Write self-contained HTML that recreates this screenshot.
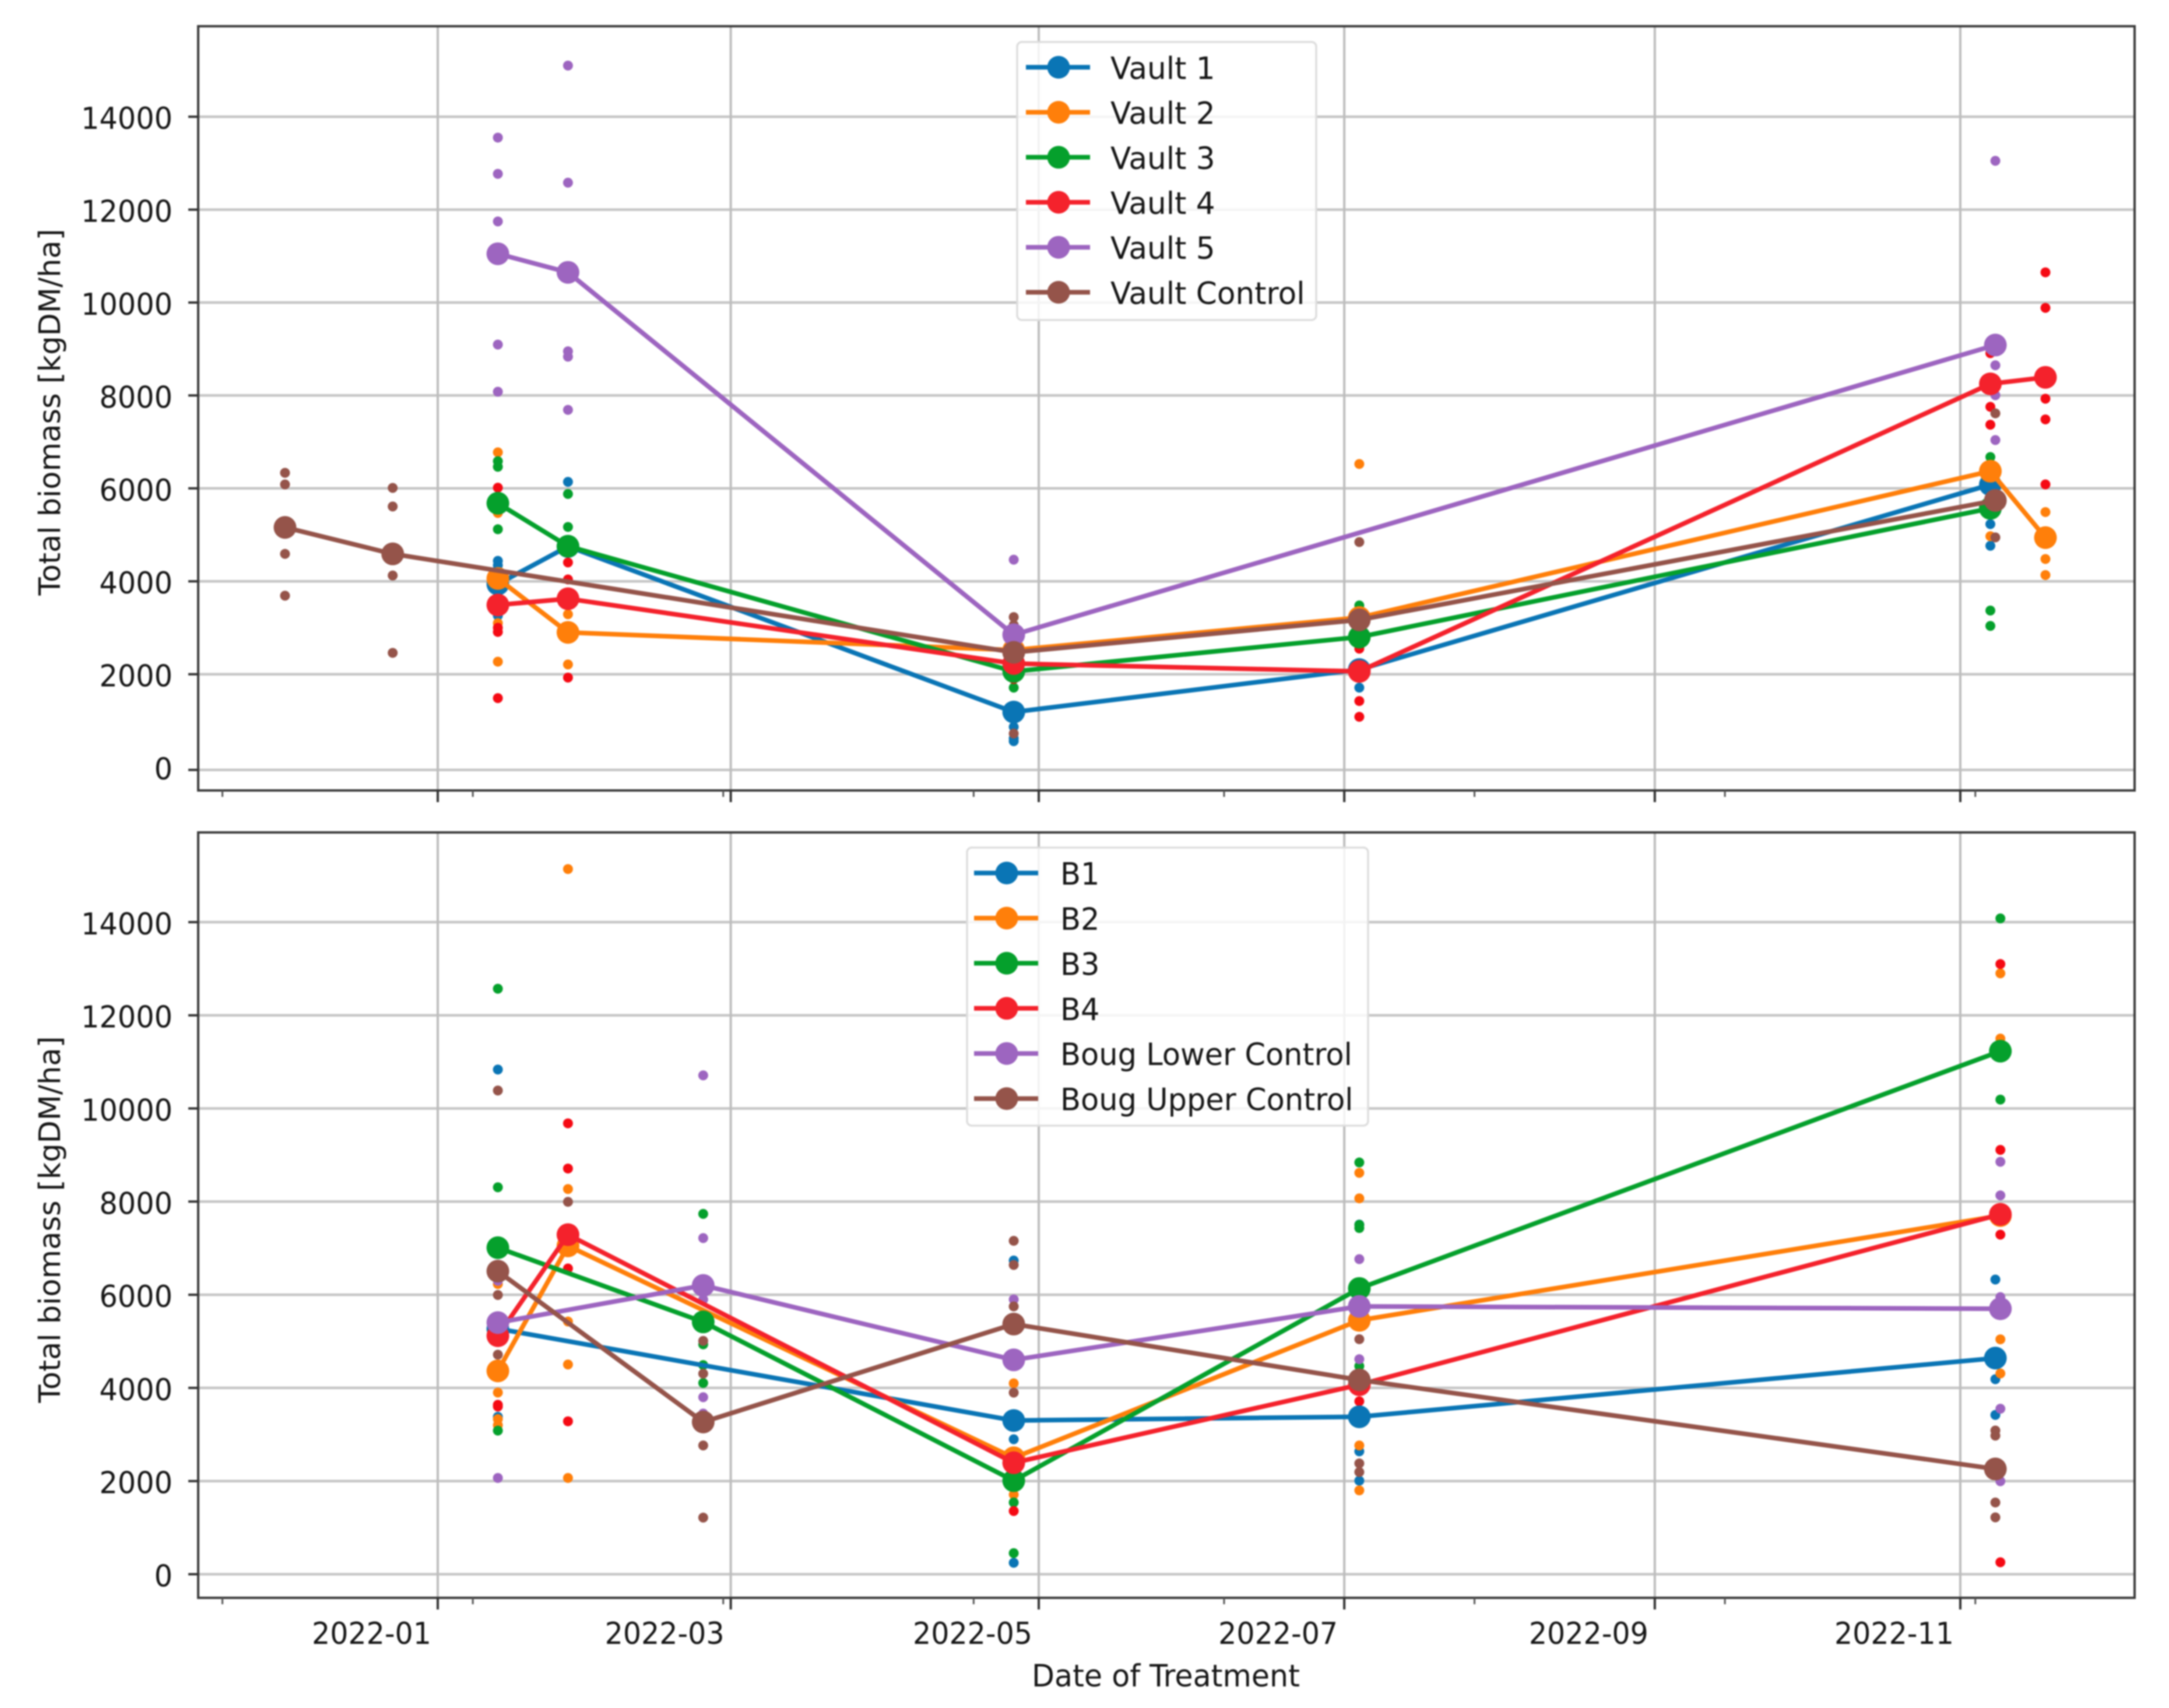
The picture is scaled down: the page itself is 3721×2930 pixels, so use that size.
<!DOCTYPE html>
<html lang="en">
<head>
<meta charset="utf-8">
<title>Total biomass by date of treatment</title>
<style>
  html, body { margin: 0; padding: 0; background: #ffffff; }
  #figure { display: block; width: 3721px; height: 2930px; filter: blur(1.2px); }
  text { font-family: "DejaVu Sans", "Liberation Sans", sans-serif; fill: #161616; }
</style>
</head>
<body>
<svg id="figure" xmlns="http://www.w3.org/2000/svg" width="3721" height="2930" viewBox="0 0 3721 2930"></svg>
<script>
// ---- Shared tick data ----
const monthTickDates = ['2022-01-01', '2022-02-28T12:00', '2022-05-01', '2022-07-01', '2022-09-01', '2022-11-01'];
const monthTickLabels = ['2022-01', '2022-03', '2022-05', '2022-07', '2022-09', '2022-11'];
const minorTickDates = ['2021-11-19', '2022-01-08', '2022-02-27', '2022-04-18', '2022-06-07', '2022-07-27', '2022-09-15', '2022-11-04'];
const yTickValues = [0, 2000, 4000, 6000, 8000, 10000, 12000, 14000];
const seriesColors = ['#0a75b5', '#ff7f0a', '#05a02c', '#f4222c', '#9d65c0', '#95544a'];
const sampleColors = ['#0a75b5', '#ff7f0a', '#05a02c', '#f50a14', '#9d65c0', '#95544a'];

// ---- Top panel: vault sites ----
const vaultNames = ['Vault 1', 'Vault 2', 'Vault 3', 'Vault 4', 'Vault 5', 'Vault Control'];

const vault1Dates = ['2022-01-13', '2022-01-27', '2022-04-26', '2022-07-04', '2022-11-07'];
const vault1Means = [3940, 4750, 1210, 2100, 6080];
const vault1Samples = [[4440, 4345, 3260], [6140], [600, 660, 900], [1720, 1950], [5230, 4765]];

const vault2Dates = ['2022-01-13', '2022-01-27', '2022-04-26', '2022-07-04', '2022-11-07', '2022-11-18'];
const vault2Means = [4060, 2900, 2520, 3220, 6370, 4940];
const vault2Samples = [[6775, 5470, 3100, 2270], [3290, 2210], [2700], [6525], [4970], [5490, 4480, 4135]];

const vault3Dates = ['2022-01-13', '2022-01-27', '2022-04-26', '2022-07-04', '2022-11-07'];
const vault3Means = [5680, 4755, 2060, 2800, 5570];
const vault3Samples = [[6585, 6465, 5120], [5880, 5170], [1720], [3480, 3330], [6675, 3370, 3040]];

const vault4Dates = ['2022-01-13', '2022-01-27', '2022-04-26', '2022-07-04', '2022-11-07', '2022-11-18'];
const vault4Means = [3490, 3625, 2230, 2060, 8250, 8390];
const vault4Samples = [[6015, 3000, 2910, 1500], [4405, 4040, 1930], [1900], [2550, 1440, 1110], [8910, 7755, 7370], [10650, 9885, 7930, 7485, 6085]];

const vault5Dates = ['2022-01-13', '2022-01-27', '2022-04-26', '2022-11-08'];
const vault5Means = [11050, 10650, 2850, 9085];
const vault5Samples = [[13550, 12770, 11745, 9095, 8080], [15100, 12580, 8950, 8835, 7690], [4465], [13050, 8650, 8005, 7040]];

const vaultControlDates = ['2021-12-01T12:00', '2021-12-23', '2022-04-26', '2022-07-04', '2022-11-08'];
const vaultControlMeans = [5160, 4590, 2470, 3170, 5740];
const vaultControlSamples = [[6335, 6085, 4590, 3690], [6010, 5610, 4670, 4125, 2460], [3230, 3060, 760], [4845], [7615, 4945]];

// ---- Bottom panel: Boug sites ----
const bougNames = ['B1', 'B2', 'B3', 'B4', 'Boug Lower Control', 'Boug Upper Control'];

const b1Dates = ['2022-01-13', '2022-04-26', '2022-07-04', '2022-11-08'];
const b1Means = [5270, 3300, 3380, 4640];
const b1Samples = [[10835, 3380], [6735, 2897, 245], [7506, 2638, 2008], [6327, 4186, 3420]];

const b2Dates = ['2022-01-13', '2022-01-27', '2022-04-26', '2022-07-04', '2022-11-09'];
const b2Means = [4365, 7050, 2500, 5450, 7700];
const b2Samples = [[6230, 3900, 3330, 3200], [15140, 8270, 5425, 4503, 2067], [4098, 1710], [8617, 8070, 2764, 1800], [12900, 11500, 5043, 4310]];

const b3Dates = ['2022-01-13', '2022-02-23', '2022-04-26', '2022-07-04', '2022-11-09'];
const b3Means = [7010, 5417, 2008, 6135, 11230];
const b3Samples = [[12570, 8307, 3083], [7736, 4935, 4490, 4105], [1541, 452], [8840, 7432, 7500, 4468], [14080, 10190]];

const b4Dates = ['2022-01-13', '2022-01-27', '2022-04-26', '2022-07-04', '2022-11-09'];
const b4Means = [5120, 7290, 2393, 4068, 7727];
const b4Samples = [[3638, 3600], [9680, 8710, 6565, 3283], [1356], [3712], [13100, 9110, 7290, 257]];

const bougLowerDates = ['2022-01-13', '2022-02-23', '2022-04-26', '2022-07-04', '2022-11-09'];
const bougLowerMeans = [5402, 6200, 4602, 5750, 5700];
const bougLowerSamples = [[6300, 2067], [10710, 7217, 5900, 3800, 3450], [5900], [6765, 4616], [8855, 8133, 5950, 3553, 1996]];

const bougUpperDates = ['2022-01-13', '2022-02-23', '2022-04-26', '2022-07-04', '2022-11-08'];
const bougUpperMeans = [6506, 3268, 5370, 4172, 2260];
const bougUpperSamples = [[10385, 5995, 4713], [5010, 4305, 2764, 1215], [7158, 6640, 5750, 3898], [5046, 2379, 2193], [3085, 2975, 1540, 1220]];

const bougUpperExtraDates = ['2022-01-27'];
const bougUpperExtraValues = [7995];

// ---- Axis functions ----
function dayOf(dateStr) {
  const iso = dateStr.indexOf('T') >= 0 ? dateStr + 'Z' : dateStr + 'T00:00Z';
  return (Date.parse(iso) - Date.UTC(2022, 0, 1)) / 86400000;
}
function xScale(dateStr) { return 751 + 8.592 * dayOf(dateStr); }
function yTop(v) { return v >= 2000 ? 1316 - 0.0797 * v : 1156.6 + (2000 - v) * 0.0821; }
function yTopLabel(v) { return 1316 - 0.0797 * v; }
function yBottom(v) { return 2700.5 - 0.0799 * v; }

const svg = document.getElementById('figure');
const NS = 'http://www.w3.org/2000/svg';

function add(parent, tag, attrs, name) {
  const el = document.createElementNS(NS, tag);
  for (const key in attrs) el.setAttribute(key, attrs[key]);
  
  
  parent.appendChild(el);
  return el;
}
function addText(parent, attrs, content, name) {
  const el = add(parent, 'text', attrs, name);
  el.textContent = content;
  return el;
}

function drawPanel(cfg) {
  const g = add(svg, 'g', {}, cfg.name);
  const L = 340, R = 3662, T = cfg.top, B = cfg.bottom;

  // grid
  yTickValues.forEach(function (v) {
    add(g, 'line', { x1: L, x2: R, y1: cfg.y(v), y2: cfg.y(v), stroke: '#c6c6c6', 'stroke-width': 4.5 }, 'y-gridline-' + v);
  });
  monthTickDates.forEach(function (d, i) {
    add(g, 'line', { x1: xScale(d), x2: xScale(d), y1: T, y2: B, stroke: '#bdbdbd', 'stroke-width': 4 }, 'x-gridline-' + monthTickLabels[i]);
  });

  // individual samples beneath all lines
  cfg.series.forEach(function (s, si) {
    s.samples.forEach(function (values, di) {
      values.forEach(function (v) {
        add(g, 'circle', { cx: xScale(s.dates[di]), cy: cfg.y(v), r: 8.5, fill: sampleColors[si] }, cfg.names[si].toLowerCase().replace(/ /g, '-') + '-sample');
      });
    });
  });
  if (cfg.extraDates) {
    cfg.extraDates.forEach(function (d, i) {
      add(g, 'circle', { cx: xScale(d), cy: cfg.y(cfg.extraValues[i]), r: 8.5, fill: sampleColors[5] }, 'extra-sample');
    });
  }

  // mean lines + markers
  cfg.series.forEach(function (s, si) {
    const pts = s.dates.map(function (d, i) { return xScale(d).toFixed(1) + ',' + cfg.y(s.means[i]).toFixed(1); }).join(' ');
    const slug = cfg.names[si].toLowerCase().replace(/ /g, '-');
    add(g, 'polyline', { points: pts, fill: 'none', stroke: seriesColors[si], 'stroke-width': 8, 'stroke-linejoin': 'round' }, slug + '-line');
    s.dates.forEach(function (d, i) {
      add(g, 'circle', { cx: xScale(d), cy: cfg.y(s.means[i]), r: 19.5, fill: seriesColors[si] }, slug + '-mean-point');
    });
  });

  // spines
  add(g, 'rect', { x: L, y: T, width: R - L, height: B - T, fill: 'none', stroke: '#3a3a3a', 'stroke-width': 4 }, 'axes-frame');

  // y ticks and labels
  yTickValues.forEach(function (v) {
    add(g, 'line', { x1: L - 17, x2: L, y1: cfg.y(v), y2: cfg.y(v), stroke: '#333333', 'stroke-width': 4 }, 'y-tick-' + v);
    const label = String(v);
    addText(g, { x: 296, y: cfg.labelY(v) + 21, 'text-anchor': 'end', 'font-size': 52, textLength: label.length * 31.4, lengthAdjust: 'spacingAndGlyphs' }, label, 'y-tick-label-' + v);
  });

  // x ticks
  monthTickDates.forEach(function (d, i) {
    add(g, 'line', { x1: xScale(d), x2: xScale(d), y1: B, y2: B + 20, stroke: '#333333', 'stroke-width': 4 }, 'x-tick-' + monthTickLabels[i]);
    if (cfg.showXLabels) {
      addText(g, { x: xScale(d) - 11, y: B + 79, 'text-anchor': 'end', 'font-size': 52, textLength: 205, lengthAdjust: 'spacingAndGlyphs' }, monthTickLabels[i], 'x-tick-label-' + monthTickLabels[i]);
    }
  });
  minorTickDates.forEach(function (d, i) {
    add(g, 'line', { x1: xScale(d), x2: xScale(d), y1: B, y2: B + 11, stroke: '#555555', 'stroke-width': 3 }, 'x-minor-tick-' + i);
  });

  // y axis title
  addText(g, { x: 0, y: 0, transform: 'translate(103 ' + cfg.yTitleCenter + ') rotate(-90)', 'text-anchor': 'middle', 'font-size': 51 }, 'Total biomass [kgDM/ha]', 'y-axis-title');

  // legend
  const lg = add(g, 'g', {}, 'legend');
  add(lg, 'rect', { x: cfg.legend.x, y: cfg.legend.y, width: cfg.legend.w, height: cfg.legend.h, rx: 8, ry: 8, fill: '#ffffff', 'fill-opacity': 0.82, stroke: '#dddddd', 'stroke-width': 3.5 }, 'legend-frame');
  cfg.names.forEach(function (n, i) {
    const slug = n.toLowerCase().replace(/ /g, '-');
    const ey = cfg.legend.rowY + i * cfg.legend.rowStep;
    const entry = add(lg, 'g', {}, 'legend-entry-' + slug);
    add(entry, 'line', { x1: cfg.legend.lineX, x2: cfg.legend.lineX + 110, y1: ey, y2: ey, stroke: seriesColors[i], 'stroke-width': 8 }, 'legend-line-' + slug);
    add(entry, 'circle', { cx: cfg.legend.lineX + 56, cy: ey, r: 19.5, fill: seriesColors[i] }, 'legend-marker-' + slug);
    const label = addText(entry, { x: cfg.legend.textX, y: ey + 20, 'font-size': 53 }, n, 'legend-label-' + slug);
    label.setAttribute('textLength', (label.getComputedTextLength() * cfg.legend.squeeze).toFixed(1));
    label.setAttribute('lengthAdjust', 'spacingAndGlyphs');
  });
}

drawPanel({
  name: 'vault-panel', names: vaultNames, top: 45, bottom: 1356, y: yTop, labelY: yTopLabel, showXLabels: false, yTitleCenter: 707,
  series: [
    { dates: vault1Dates, means: vault1Means, samples: vault1Samples },
    { dates: vault2Dates, means: vault2Means, samples: vault2Samples },
    { dates: vault3Dates, means: vault3Means, samples: vault3Samples },
    { dates: vault4Dates, means: vault4Means, samples: vault4Samples },
    { dates: vault5Dates, means: vault5Means, samples: vault5Samples },
    { dates: vaultControlDates, means: vaultControlMeans, samples: vaultControlSamples }
  ],
  legend: { x: 1745, y: 72, w: 513, h: 477, rowY: 115.4, rowStep: 77.2, lineX: 1760, textX: 1905, squeeze: 0.975 }
});

drawPanel({
  name: 'boug-panel', names: bougNames, top: 1428, bottom: 2741, y: yBottom, labelY: yBottom, showXLabels: true, yTitleCenter: 2092,
  series: [
    { dates: b1Dates, means: b1Means, samples: b1Samples },
    { dates: b2Dates, means: b2Means, samples: b2Samples },
    { dates: b3Dates, means: b3Means, samples: b3Samples },
    { dates: b4Dates, means: b4Means, samples: b4Samples },
    { dates: bougLowerDates, means: bougLowerMeans, samples: bougLowerSamples },
    { dates: bougUpperDates, means: bougUpperMeans, samples: bougUpperSamples }
  ],
  extraDates: bougUpperExtraDates, extraValues: bougUpperExtraValues,
  legend: { x: 1659, y: 1454, w: 688, h: 477, rowY: 1497.6, rowStep: 77.4, lineX: 1671, textX: 1819, squeeze: 0.963 }
});

addText(svg, { x: 2000, y: 2893, 'text-anchor': 'middle', 'font-size': 53, textLength: 460, lengthAdjust: 'spacingAndGlyphs' }, 'Date of Treatment', 'x-axis-title');
</script>
</body>
</html>
